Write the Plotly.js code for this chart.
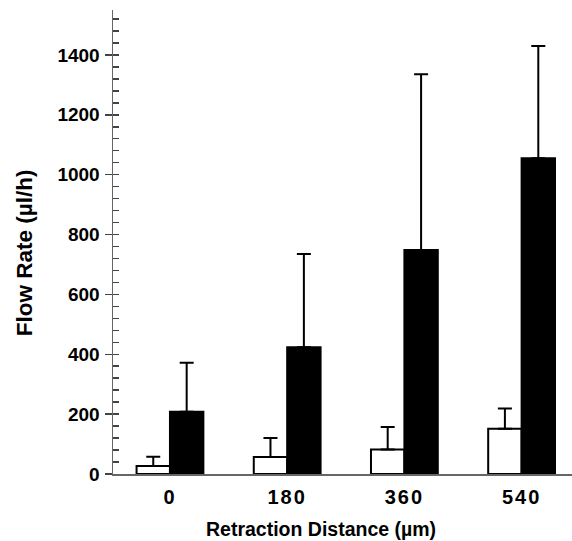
<!DOCTYPE html>
<html>
<head>
<meta charset="utf-8">
<script src="https://cdn.plot.ly/plotly-3.0.1.min.js"></script>
<style>
html,body{margin:0;padding:0;background:#fff;}
#chart{width:572px;height:541px;}
#chart .xtick text{letter-spacing:2px;}
</style>
</head>
<body>
<div id="chart"></div>
<script>
const categories = ["0", "180", "360", "540"];
const whiteValues = [27, 57, 82, 151];
const whiteErrors = [31, 63, 75, 68];
const blackValues = [208, 423, 748, 1055];
const blackErrors = [164, 312, 587, 375];
const xTitle = "Retraction Distance (µm)";
const yTitle = "Flow Rate (µl/h)";

const FONT = "'Liberation Sans', Arial, Helvetica, sans-serif";

function zeros(n){ const a=[]; for(let i=0;i<n;i++) a.push(0); return a; }

const traces = [
  {
    type: 'bar', x: categories, y: whiteValues, name: 'open',
    marker: {color: '#ffffff', line: {color: '#000000', width: 2}},
    error_y: {type: 'data', array: whiteErrors, arrayminus: zeros(whiteErrors.length), symmetric: false,
              color: '#000000', thickness: 2, width: 7},
    showlegend: false, hoverinfo: 'skip'
  },
  {
    type: 'bar', x: categories, y: blackValues, name: 'filled',
    marker: {color: '#000000', line: {color: '#000000', width: 2}},
    error_y: {type: 'data', array: blackErrors, arrayminus: zeros(blackErrors.length), symmetric: false,
              color: '#000000', thickness: 2, width: 7},
    showlegend: false, hoverinfo: 'skip'
  },
  { type: 'scatter', x: [categories[0]], y: [0], yaxis: 'y2', mode: 'markers',
    marker: {opacity: 0}, showlegend: false, hoverinfo: 'skip' }
];

const layout = {
  width: 572, height: 541,
  margin: {l: 113, r: 0, t: 10, b: 67},
  paper_bgcolor: '#fff', plot_bgcolor: '#fff',
  barmode: 'group', bargap: 0.43, bargroupgap: 0,
  font: {family: FONT, color: '#000'},
  xaxis: {
    type: 'category', range: [-0.486, 3.43],
    showline: true, linecolor: '#666', linewidth: 1.5,
    ticks: '', showgrid: false, zeroline: false,
    tickfont: {family: FONT, size: 20, weight: 'bold', color: '#000'},
    ticklabelstandoff: 4
  },
  yaxis: {
    range: [0, 1550], tickmode: 'linear', tick0: 0, dtick: 200,
    showline: true, linecolor: '#666', linewidth: 1.5,
    ticks: 'outside', ticklen: 7, tickwidth: 1.5, tickcolor: '#444',
    showgrid: false, zeroline: false, ticklabelstandoff: 1,
    tickfont: {family: FONT, size: 19, weight: 'bold', color: '#000'}
  },
  yaxis2: {
    overlaying: 'y', side: 'left', range: [0, 1550], tickmode: 'linear', tick0: 0, dtick: 40,
    ticks: 'inside', ticklen: 6, tickwidth: 1.5, tickcolor: '#444',
    showticklabels: false, showgrid: false, zeroline: false, showline: false
  },
  annotations: [
    {text: xTitle, xref: 'paper', yref: 'paper', x: 0.453, y: -0.118, xanchor: 'center', yanchor: 'middle',
     showarrow: false, font: {family: FONT, size: 19.5, weight: 'bold', color: '#000'}},
    {text: yTitle, xref: 'paper', yref: 'paper', x: -0.194, y: 0.478, xanchor: 'center', yanchor: 'middle',
     textangle: -90, showarrow: false, font: {family: FONT, size: 22.5, weight: 'bold', color: '#000'}}
  ]
};

Plotly.newPlot('chart', traces, layout, {displayModeBar: false, staticPlot: true});
</script>
</body>
</html>
